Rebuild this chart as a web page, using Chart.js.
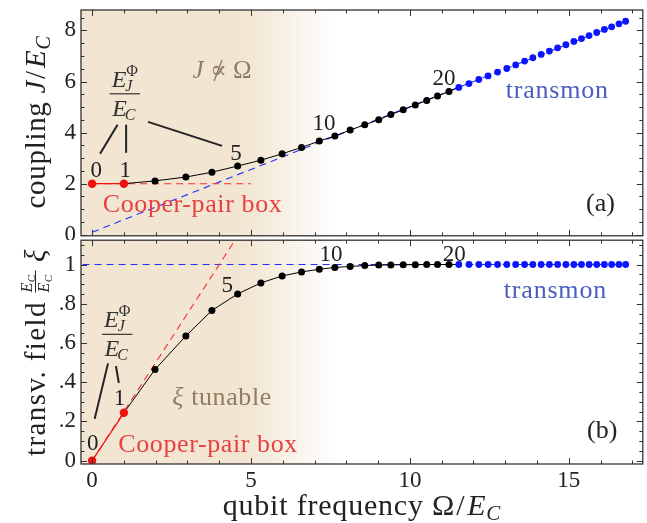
<!DOCTYPE html>
<html><head><meta charset="utf-8">
<script src="https://cdn.jsdelivr.net/npm/chart.js@4/dist/chart.umd.min.js"></script>
<style>
html,body{margin:0;padding:0;background:#fff;}
#wrap{position:relative;width:647px;height:523px;overflow:hidden;}
canvas{position:absolute;left:0;}
#ca{top:0;} #cb{top:236px;}
</style></head><body>
<div id="wrap">
<canvas id="ca" width="647" height="240"></canvas>
<canvas id="cb" width="647" height="287"></canvas>
</div>
<script>
// ---------------- data ----------------
// points for E_J/E_C = 0,1,...,40  (0-1: Cooper-pair box, 2-19: intermediate, 20-40: transmon)
const qubitFreq = [0, 1, 1.98, 2.95, 3.77, 4.58, 5.31, 5.98, 6.59, 7.15, 7.64, 8.12, 8.58, 9.02, 9.40, 9.79, 10.17, 10.53, 10.87, 11.23,
  11.54, 11.86, 12.17, 12.46, 12.76, 13.05, 13.33, 13.61, 13.87, 14.13, 14.39, 14.65, 14.91, 15.16, 15.40, 15.64, 15.88, 16.12, 16.35, 16.58, 16.79];
const couplingJ = [2.0, 2.0, 2.11, 2.26, 2.45, 2.69, 2.92, 3.17, 3.42, 3.67, 3.87, 4.10, 4.31, 4.50, 4.71, 4.89, 5.08, 5.26, 5.43, 5.61,
  5.77, 5.92, 6.08, 6.22, 6.37, 6.51, 6.65, 6.80, 6.93, 7.06, 7.19, 7.32, 7.44, 7.57, 7.68, 7.80, 7.92, 8.04, 8.14, 8.26, 8.36];
const transvField = [0, 0.244, 0.465, 0.636, 0.766, 0.850, 0.906, 0.942, 0.962, 0.976, 0.985, 0.990, 0.995, 0.997, 0.998, 0.999, 0.999, 1.0, 1.0, 1.0,
  1.0, 1.0, 1.0, 1.0, 1.0, 1.0, 1.0, 1.0, 1.0, 1.0, 1.0, 1.0, 1.0, 1.0, 1.0, 1.0, 1.0, 1.0, 1.0, 1.0, 1.0];
// asymptotes (dashed)
const transmonJx = [0, 16.8],   transmonJy = [0.1, 8.36];
const cpbJx = [0, 5],           cpbJy = [2, 2];
const transmonXiX = [-0.3, 16.8], transmonXiY = [1, 1];
const cpbXiX = [0, 4.6],        cpbXiY = [0, 1.15];
// tick labels
const xTicks = [0, 5, 10, 15];
const yTicksA = [0, 2, 4, 6, 8];
const yTicksB = [0, 0.2, 0.4, 0.6, 0.8, 1];
const yTickLabelsB = ['0', '.2', '.4', '.6', '.8', '1'];
const pointLabels = ['0', '1', '5', '10', '20'];

// ---------------- styles ----------------
const SERIF = '"Liberation Serif","DejaVu Serif",serif';
const RED = '#f01010', RED_TEXT = '#e8403f', BLUE = '#0a14ff', BLUE_TEXT = '#4a5cc0';
const TAN = 'rgba(242,230,211,1)', TAN0 = 'rgba(242,230,211,0)', TAN_TEXT = '#8e7d60', INK = '#222';

const pts = (xs, ys, i0, i1) => xs.slice(i0, i1).map((x, i) => ({x, y: ys[i0 + i]}));

function font(size, italic) { return (italic ? 'italic ' : '') + size + 'px ' + SERIF; }
// rich text: parts {t, s (size), i (italic), dy, strike, w}
function rich(ctx, parts, x, y, align, color, spacing) {
  ctx.save();
  ctx.letterSpacing = (spacing || 0) + 'px';
  ctx.textBaseline = 'alphabetic'; ctx.textAlign = 'left';
  const ws = parts.map(p => { ctx.font = font(p.s, p.i); return p.w !== undefined ? p.w : ctx.measureText(p.t).width; });
  const W = ws.reduce((a, b) => a + b, 0);
  let cx = align === 'center' ? x - W / 2 : align === 'right' ? x - W : x;
  parts.forEach((p, k) => {
    ctx.font = font(p.s, p.i); ctx.fillStyle = p.c || color;
    ctx.fillText(p.t, cx + (p.ox || 0), y + (p.dy || 0));
    if (p.strike) {
      ctx.strokeStyle = p.c || color; ctx.lineWidth = 1.4;
      ctx.beginPath(); ctx.moveTo(cx + ws[k] * 0.25, y + 3); ctx.lineTo(cx + ws[k] * 0.72, y - p.s * 0.72); ctx.stroke();
    }
    cx += ws[k];
  });
  ctx.restore();
  return W;
}
// E_J^Phi over E_C fraction, centered at cx, bar at barY
function fracEJ(ctx, cx, barY, color) {
  ctx.save();
  ctx.fillStyle = color; ctx.strokeStyle = color;
  ctx.font = font(24, true); const wE = ctx.measureText('E').width;
  ctx.font = font(16, true); const wJ = ctx.measureText('J').width;
  ctx.font = font(16, false); const wP = ctx.measureText('Φ').width;
  ctx.font = font(16, true); const wC = ctx.measureText('C').width;
  const wNum = wE + Math.max(wJ, wP), wDen = wE + wC, W = Math.max(wNum, wDen);
  let x0 = cx - wNum / 2;
  ctx.font = font(24, true); ctx.fillText('E', x0, barY - 7);
  ctx.font = font(16, true); ctx.fillText('J', x0 + wE - 1, barY - 3);
  ctx.font = font(16, false); ctx.fillText('Φ', x0 + wE, barY - 18);
  ctx.lineWidth = 1.2; ctx.beginPath(); ctx.moveTo(cx - W / 2 - 2, barY); ctx.lineTo(cx + W / 2 + 2, barY); ctx.stroke();
  x0 = cx - wDen / 2;
  ctx.font = font(24, true); ctx.fillText('E', x0, barY + 22);
  ctx.font = font(16, true); ctx.fillText('C', x0 + wE - 2, barY + 26);
  ctx.restore();
}
function seg(ctx, p0, p1, color, w) {
  ctx.save(); ctx.strokeStyle = color; ctx.lineWidth = w; ctx.lineCap = 'butt';
  ctx.beginPath(); ctx.moveTo(p0[0], p0[1]); ctx.lineTo(p1[0], p1[1]); ctx.stroke(); ctx.restore();
}

function framePlugin(cfg) {
  return {
    id: 'frame' + cfg.name,
    beforeDatasetsDraw(chart) {
      const {ctx, chartArea: a, scales: {x}} = chart;
      const w = a.right - a.left;
      const g = ctx.createLinearGradient(a.left, 0, a.right, 0);
      const f = v => Math.min(1, Math.max(0, (x.getPixelForValue(v) - a.left) / w));
      g.addColorStop(0, TAN); g.addColorStop(f(4.8), TAN);
      g.addColorStop(f(6.2), 'rgba(242,230,211,0.55)');
      g.addColorStop(f(7.6), TAN0); g.addColorStop(1, TAN0);
      ctx.save(); ctx.fillStyle = g; ctx.fillRect(a.left, a.top, w, a.bottom - a.top); ctx.restore();
    },
    afterDatasetsDraw(chart) {
      const {ctx, chartArea: a, scales: {x, y}} = chart;
      ctx.save();
      // inward tick marks on all four sides
      for (let v = 0; v <= 17.001; v += 1) {
        const px = Math.round(x.getPixelForValue(v)) + 0.5, L = (Math.abs(v % 5) < 1e-6) ? 6 : 3.5;
        seg(ctx, [px, a.bottom], [px, a.bottom - L], '#333', 1);
        seg(ctx, [px, a.top], [px, a.top + L], '#333', 1);
      }
      for (let k = 0; ; k++) {
        const v = k * cfg.yMinor; if (v > cfg.yMax) break;
        const py = Math.round(y.getPixelForValue(v)) + 0.5;
        const L = (k % cfg.yMajorEvery === 0) ? 6 : 3.5;
        seg(ctx, [a.left, py], [a.left + L, py], '#333', 1);
        seg(ctx, [a.right, py], [a.right - L, py], '#333', 1);
      }
      ctx.lineWidth = 1.3; ctx.strokeStyle = '#333';
      ctx.strokeRect(a.left, a.top, a.right - a.left, a.bottom - a.top);
      ctx.restore();
      cfg.draw(ctx, (vx, vy) => [x.getPixelForValue(vx), y.getPixelForValue(vy)], a);
    }
  };
}

function makeChart(id, cfg) {
  return new Chart(document.getElementById(id), {
    type: 'scatter',
    data: {datasets: cfg.datasets},
    options: {
      responsive: false, animation: false, events: [],
      layout: {padding: cfg.padding},
      plugins: {legend: {display: false}, tooltip: {enabled: false}},
      scales: {
        x: {
          type: 'linear', min: -0.35, max: 17.33, display: cfg.showX,
          grid: {display: false, drawTicks: false}, border: {display: false},
          afterBuildTicks: s => { s.ticks = xTicks.map(v => ({value: v})); },
          afterFit: s => { s.height = cfg.showX ? 59 : 0; s.paddingLeft = 0; s.paddingRight = 0; },
          ticks: {font: {family: SERIF, size: 23}, color: INK, padding: 3, maxRotation: 0, autoSkip: false,
                  callback: v => String(v)}
        },
        y: {
          type: 'linear', min: cfg.yMin, max: cfg.yMax,
          grid: {display: false, drawTicks: false}, border: {display: false},
          afterBuildTicks: s => { s.ticks = cfg.yTicks.map(v => ({value: v})); },
          afterFit: s => { s.width = 81; s.paddingTop = 0; s.paddingBottom = 0; },
          ticks: {font: {family: SERIF, size: 23}, color: INK, padding: 5, autoSkip: false,
                  callback: cfg.yFmt}
        }
      }
    },
    plugins: [framePlugin(cfg)]
  });
}

const dash = [7, 5];
function seriesSets(ys, asymX, asymY, cpbX, cpbY) {
  return [
    {data: pts(qubitFreq, ys, 20, 41), backgroundColor: BLUE, pointRadius: 3.4, pointBorderWidth: 0, showLine: false, order: 1},
    {data: pts(qubitFreq, ys, 2, 20), backgroundColor: '#000', pointRadius: 3.5, pointBorderWidth: 0, showLine: false, order: 2},
    {data: pts(qubitFreq, ys, 0, 2), backgroundColor: RED, borderColor: RED, borderWidth: 1.2, pointRadius: 4.2, pointBorderWidth: 0, showLine: true, order: 3},
    {data: pts(qubitFreq, ys, 1, 21), borderColor: '#000', borderWidth: 1, pointRadius: 0, showLine: true, order: 4},
    {data: pts(cpbX, cpbY, 0, 2), borderColor: '#ff2a2a', borderWidth: 1.1, borderDash: dash, pointRadius: 0, showLine: true, order: 5},
    {data: pts(asymX, asymY, 0, 2), borderColor: '#2030ff', borderWidth: 1.1, borderDash: dash, pointRadius: 0, showLine: true, order: 6}
  ];
}

// ---------------- panel (a) ----------------
makeChart('ca', {
  name: 'a', showX: false, padding: {left: 0, top: 10, right: 4, bottom: 4},
  yMin: -0.04, yMax: 8.8, yTicks: yTicksA, yFmt: v => String(v), yMinor: 0.5, yMajorEvery: 4,
  datasets: seriesSets(couplingJ, transmonJx, transmonJy, cpbJx, cpbJy),
  draw(ctx, P, a) {
    let p;
    p = P(4.09, 6.14);
    rich(ctx, [{t: 'J', s: 25, i: true}, {t: ' ', s: 25}, {t: '∝', s: 25, strike: true}, {t: ' Ω', s: 25}], p[0], p[1], 'center', TAN_TEXT);
    p = P(1.03, 5.52); fracEJ(ctx, p[0], p[1], '#333');
    seg(ctx, P(0.80, 4.31), P(0.25, 3.17), '#222', 2);
    seg(ctx, P(1.07, 4.31), P(1.07, 3.21), '#222', 2);
    seg(ctx, P(1.76, 4.42), P(4.09, 3.48), '#222', 2);
    const lab = [[0.13, 2.27], [1.04, 2.27], [4.53, 2.94], [7.30, 4.11], [11.07, 5.87]];
    lab.forEach((q, k) => { p = P(q[0], q[1]); rich(ctx, [{t: pointLabels[k], s: 23}], p[0], p[1], 'center', INK); });
    p = P(3.16, 0.90); rich(ctx, [{t: 'Cooper-pair box', s: 26}], p[0], p[1], 'center', RED_TEXT, 0.6);
    p = P(14.64, 5.36); rich(ctx, [{t: 'transmon', s: 26}], p[0], p[1], 'center', BLUE_TEXT, 0.8);
    p = P(16.0, 0.94); rich(ctx, [{t: '(a)', s: 26}], p[0], p[1], 'center', INK);
    // y title
    ctx.save(); ctx.translate(45, 122); ctx.rotate(-Math.PI / 2);
    rich(ctx, [{t: 'coupling ', s: 29}, {t: 'J', s: 29, i: true}, {t: '/', s: 29, w: 12, ox: 1}, {t: 'E', s: 29, i: true}, {t: 'C', s: 20, i: true, dy: 5}], 0, 0, 'center', INK, 0.7);
    ctx.restore();
  }
});

// ---------------- panel (b) ----------------
makeChart('cb', {
  name: 'b', showX: true, padding: {left: 0, top: 4, right: 4, bottom: 0},
  yMin: -0.017, yMax: 1.124, yTicks: yTicksB, yFmt: v => yTickLabelsB[yTicksB.findIndex(t => Math.abs(t - v) < 1e-9)],
  yMinor: 0.05, yMajorEvery: 4,
  datasets: seriesSets(transvField, transmonXiX, transmonXiY, cpbXiX, cpbXiY),
  draw(ctx, P, a) {
    let p;
    p = P(4.09, 0.284);
    rich(ctx, [{t: 'ξ', s: 26, i: true}, {t: ' tunable', s: 26}], p[0], p[1], 'center', TAN_TEXT, 0.6);
    p = P(0.79, 0.644); fracEJ(ctx, p[0], p[1], '#333');
    seg(ctx, P(0.50, 0.496), P(0.08, 0.213), '#222', 2);
    seg(ctx, P(0.75, 0.482), P(0.84, 0.396), '#222', 2);
    const lab = [[0.02, 0.054], [0.86, 0.284], [4.25, 0.858], [7.52, 1.017], [11.40, 1.017]];
    lab.forEach((q, k) => { p = P(q[0], q[1]); rich(ctx, [{t: pointLabels[k], s: 23}], p[0], p[1], 'center', INK); });
    p = P(3.65, 0.044); rich(ctx, [{t: 'Cooper-pair box', s: 26}], p[0], p[1], 'center', RED_TEXT, 0.6);
    p = P(14.58, 0.828); rich(ctx, [{t: 'transmon', s: 26}], p[0], p[1], 'center', BLUE_TEXT, 0.8);
    p = P(16.05, 0.116); rich(ctx, [{t: '(b)', s: 26}], p[0], p[1], 'center', INK);
    // x title
    rich(ctx, [{t: 'qubit frequency ', s: 30}, {t: 'Ω', s: 30}, {t: '/', s: 30, w: 12, ox: 1}, {t: 'E', s: 30, i: true}, {t: 'C', s: 21, i: true, dy: 5}], (a.left + a.right) / 2, 279, 'center', INK, 0.8);
    // y title with small fraction
    ctx.save(); ctx.translate(45, 352 - 236); ctx.rotate(-Math.PI / 2);
    ctx.letterSpacing = '1.4px'; ctx.font = font(29, false);
    const t1 = 'transv. field ';
    const w1 = ctx.measureText(t1).width;
    ctx.font = font(16, true); const wE = ctx.measureText('E').width;
    ctx.font = font(11, true); const wc = ctx.measureText('C').width;
    const wf = wE + wc + 2;
    ctx.font = font(29, true); const wx = ctx.measureText(' ξ').width;
    const W = w1 + wf + wx; let x0 = -W / 2;
    ctx.fillStyle = INK;
    ctx.font = font(29, false); ctx.fillText(t1, x0, 0); x0 += w1;
    ctx.font = font(16, true); ctx.fillText('E', x0, -13); ctx.fillText('E', x0, 4);
    ctx.font = font(11, true); ctx.fillText('C', x0 + wE - 1, -10); ctx.fillText('C', x0 + wE - 1, 7);
    ctx.strokeStyle = INK; ctx.lineWidth = 1; ctx.beginPath(); ctx.moveTo(x0, -9.5); ctx.lineTo(x0 + wf, -9.5); ctx.stroke();
    x0 += wf;
    ctx.font = font(29, true); ctx.fillText(' ξ', x0, 0);
    ctx.restore();
  }
});
</script>
</body></html>
